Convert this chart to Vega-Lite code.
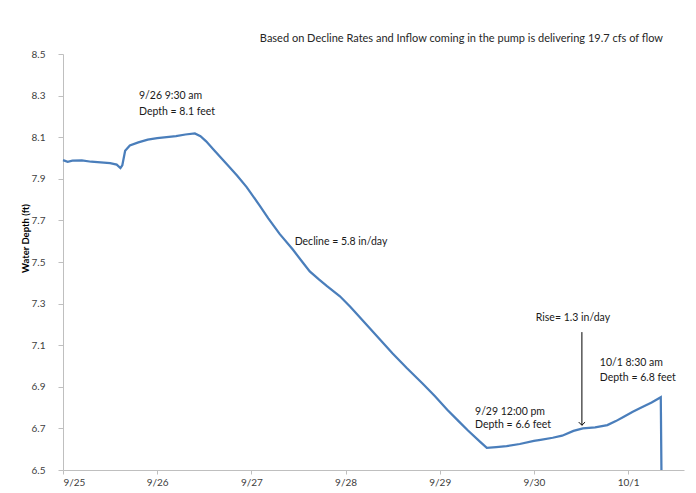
{
  "$schema": "https://vega.github.io/schema/vega-lite/v6.json",
  "width": 621,
  "height": 416,
  "autosize": {"type": "none"},
  "padding": {"left": 63, "top": 54, "right": 12, "bottom": 23},
  "background": "white",
  "title": {"text": "Based on Decline Rates and Inflow coming in the pump is delivering 19.7 cfs of flow", "anchor": "end", "dx": -21, "offset": 5, "fontSize": 11, "font": "Lato", "fontWeight": "normal", "color": "#262626"},
  "config": {"view": {"stroke": null}, "font": "Lato"},
  "datasets": {
    "depth": [
      {"t": "2012-09-25T00:00", "d": 7.99},
      {"t": "2012-09-25T01:12", "d": 7.982},
      {"t": "2012-09-25T02:24", "d": 7.987},
      {"t": "2012-09-25T04:48", "d": 7.988},
      {"t": "2012-09-25T07:12", "d": 7.982},
      {"t": "2012-09-25T09:36", "d": 7.979},
      {"t": "2012-09-25T12:00", "d": 7.975},
      {"t": "2012-09-25T13:41", "d": 7.968},
      {"t": "2012-09-25T14:38", "d": 7.952},
      {"t": "2012-09-25T15:07", "d": 7.965},
      {"t": "2012-09-25T15:50", "d": 8.035},
      {"t": "2012-09-25T17:02", "d": 8.06},
      {"t": "2012-09-25T19:12", "d": 8.075},
      {"t": "2012-09-25T21:36", "d": 8.088},
      {"t": "2012-09-26T00:00", "d": 8.095},
      {"t": "2012-09-26T02:24", "d": 8.1},
      {"t": "2012-09-26T04:48", "d": 8.105},
      {"t": "2012-09-26T07:12", "d": 8.113},
      {"t": "2012-09-26T09:36", "d": 8.118},
      {"t": "2012-09-26T11:02", "d": 8.105},
      {"t": "2012-09-26T12:29", "d": 8.08},
      {"t": "2012-09-26T14:24", "d": 8.04},
      {"t": "2012-09-26T17:46", "d": 7.97},
      {"t": "2012-09-26T20:24", "d": 7.915},
      {"t": "2012-09-26T22:48", "d": 7.86},
      {"t": "2012-09-27T02:10", "d": 7.77},
      {"t": "2012-09-27T04:19", "d": 7.71},
      {"t": "2012-09-27T07:12", "d": 7.635},
      {"t": "2012-09-27T10:34", "d": 7.56},
      {"t": "2012-09-27T13:12", "d": 7.495},
      {"t": "2012-09-27T14:53", "d": 7.455},
      {"t": "2012-09-27T17:17", "d": 7.415},
      {"t": "2012-09-27T19:12", "d": 7.385},
      {"t": "2012-09-27T22:34", "d": 7.335},
      {"t": "2012-09-28T01:12", "d": 7.285},
      {"t": "2012-09-28T02:53", "d": 7.25},
      {"t": "2012-09-28T06:14", "d": 7.18},
      {"t": "2012-09-28T09:07", "d": 7.12},
      {"t": "2012-09-28T12:00", "d": 7.06},
      {"t": "2012-09-28T15:36", "d": 6.99},
      {"t": "2012-09-28T19:41", "d": 6.915},
      {"t": "2012-09-28T22:48", "d": 6.855},
      {"t": "2012-09-29T01:55", "d": 6.79},
      {"t": "2012-09-29T04:48", "d": 6.735},
      {"t": "2012-09-29T07:12", "d": 6.69},
      {"t": "2012-09-29T10:19", "d": 6.635},
      {"t": "2012-09-29T12:00", "d": 6.606},
      {"t": "2012-09-29T14:24", "d": 6.61},
      {"t": "2012-09-29T17:02", "d": 6.615},
      {"t": "2012-09-29T20:24", "d": 6.625},
      {"t": "2012-09-30T00:00", "d": 6.64},
      {"t": "2012-09-30T01:41", "d": 6.645},
      {"t": "2012-09-30T04:48", "d": 6.655},
      {"t": "2012-09-30T07:12", "d": 6.665},
      {"t": "2012-09-30T10:05", "d": 6.688},
      {"t": "2012-09-30T12:29", "d": 6.7},
      {"t": "2012-09-30T15:36", "d": 6.705},
      {"t": "2012-09-30T18:43", "d": 6.716},
      {"t": "2012-09-30T20:53", "d": 6.735},
      {"t": "2012-09-30T22:48", "d": 6.755},
      {"t": "2012-10-01T01:12", "d": 6.78},
      {"t": "2012-10-01T03:07", "d": 6.798},
      {"t": "2012-10-01T06:00", "d": 6.825},
      {"t": "2012-10-01T08:20", "d": 6.85},
      {"t": "2012-10-01T08:30", "d": 6.5}
    ],
    "notes": [
      {"t": "2012-09-25T19:22", "d": 8.298, "label": "9/26 9:30 am"},
      {"t": "2012-09-25T19:22", "d": 8.221, "label": "Depth = 8.1 feet"},
      {"t": "2012-09-27T11:02", "d": 7.596, "label": "Decline = 5.8 in/day"},
      {"t": "2012-09-30T00:29", "d": 7.231, "label": "Rise= 1.3 in/day"},
      {"t": "2012-09-30T16:48", "d": 7.014, "label": "10/1 8:30 am"},
      {"t": "2012-09-30T16:48", "d": 6.942, "label": "Depth = 6.8 feet"},
      {"t": "2012-09-29T09:00", "d": 6.779, "label": "9/29 12:00 pm"},
      {"t": "2012-09-29T09:00", "d": 6.716, "label": "Depth = 6.6 feet"}
    ],
    "arrow": [
      {"t": "2012-09-30T12:14", "d": 7.163, "d2": 6.715}
    ]
  },
  "layer": [
    {
      "data": {"name": "depth"},
      "mark": {"type": "line", "color": "#4a7ebb", "strokeWidth": 2.25, "interpolate": "linear"},
      "encoding": {
        "x": {
          "field": "t", "type": "temporal",
          "scale": {"domain": [{"year": 2012, "month": 9, "date": 25, "hours": 0}, {"year": 2012, "month": 10, "date": 1, "hours": 14, "minutes": 15}]},
          "axis": {
            "title": null, "grid": false, "format": "%-m/%-d",
            "values": [
              {"year": 2012, "month": 9, "date": 25},
              {"year": 2012, "month": 9, "date": 26},
              {"year": 2012, "month": 9, "date": 27},
              {"year": 2012, "month": 9, "date": 28},
              {"year": 2012, "month": 9, "date": 29},
              {"year": 2012, "month": 9, "date": 30},
              {"year": 2012, "month": 10, "date": 1}
            ],
            "labelFontSize": 10, "labelColor": "#404040", "labelFont": "Lato",
            "domainColor": "#bfbfbf", "tickColor": "#bfbfbf", "tickSize": 4, "labelPadding": 3
          }
        },
        "y": {
          "field": "d", "type": "quantitative",
          "scale": {"domain": [6.5, 8.5], "nice": false, "zero": false},
          "axis": {
            "title": "Water Depth (ft)", "titleFontWeight": "bold", "titleFontSize": 9.5, "titleColor": "#000000", "titleFont": "Lato",
            "titleX": -38, "titleY": 184, "titleBaseline": "middle", "titleAngle": -90,
            "grid": false, "format": ".1f",
            "values": [6.5, 6.7, 6.9, 7.1, 7.3, 7.5, 7.7, 7.9, 8.1, 8.3, 8.5],
            "labelFontSize": 10, "labelColor": "#404040", "labelFont": "Lato",
            "domainColor": "#bfbfbf", "tickColor": "#bfbfbf", "tickSize": 5, "labelPadding": 13
          }
        }
      }
    },
    {
      "data": {"name": "notes"},
      "mark": {"type": "text", "align": "left", "baseline": "middle", "fontSize": 10.5, "font": "Lato", "color": "#1a1a1a"},
      "encoding": {
        "x": {"field": "t", "type": "temporal"},
        "y": {"field": "d", "type": "quantitative"},
        "text": {"field": "label"}
      }
    },
    {
      "data": {"name": "arrow"},
      "mark": {"type": "rule", "color": "#000000", "strokeWidth": 1},
      "encoding": {
        "x": {"field": "t", "type": "temporal"},
        "y": {"field": "d", "type": "quantitative"},
        "y2": {"field": "d2"}
      }
    },
    {
      "data": {"name": "arrow"},
      "mark": {"type": "point", "shape": "M-1,-1L0,0L1,-1", "size": 40, "filled": false, "stroke": "#000000", "strokeWidth": 1, "opacity": 1},
      "encoding": {
        "x": {"field": "t", "type": "temporal"},
        "y": {"field": "d2", "type": "quantitative"}
      }
    }
  ]
}
